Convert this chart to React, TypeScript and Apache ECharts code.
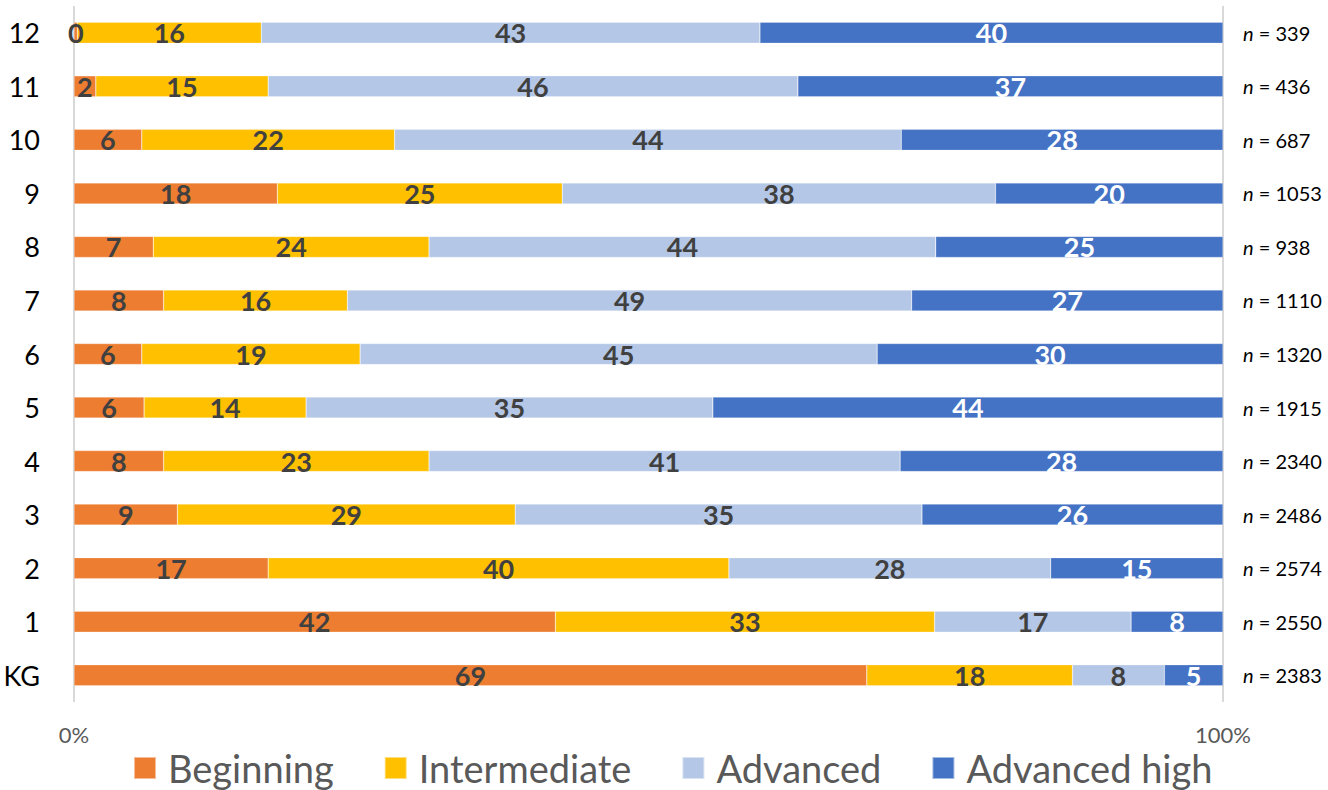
import React, { useEffect, useRef } from "react";
import * as echarts from "echarts";

const categories = ["KG", "1", "2", "3", "4", "5", "6", "7", "8", "9", "10", "11", "12"];
const beginning = [69.0, 41.9, 16.9, 9.0, 7.8, 6.1, 5.9, 7.8, 6.9, 17.7, 5.9, 1.9, 0.3];
const intermediate = [17.9, 33.0, 40.1, 29.4, 23.1, 14.1, 19.0, 16.0, 24.0, 24.8, 22.0, 15.0, 16.0];
const advanced = [8.0, 17.1, 28.0, 35.4, 41.0, 35.4, 45.0, 49.1, 44.1, 37.7, 44.1, 46.1, 43.4];
const advancedHigh = [5.1, 8.0, 15.0, 26.2, 28.1, 44.4, 30.1, 27.1, 25.0, 19.8, 28.0, 37.0, 40.3];
const nValues = [2383, 2550, 2574, 2486, 2340, 1915, 1320, 1110, 938, 1053, 687, 436, 339];
const xTicks = [0, 100];

const FONT = "Lato, 'Open Sans', sans-serif";

export default function App() {
  const ref = useRef<HTMLDivElement>(null);
  useEffect(() => {
    if (!ref.current) return;
    const chart = echarts.init(ref.current, undefined, { renderer: "svg" });
    const mk = (name: string, data: number[], color: string, labelColor: string) => ({
      name,
      type: "bar",
      stack: "total",
      data,
      barWidth: 21,
      itemStyle: { color, borderColor: "rgba(255,255,255,0.5)", borderWidth: 0.5 },
      label: {
        show: true,
        position: "inside",
        formatter: (p: any) => String(Math.round(p.value)),
        color: labelColor,
        fontSize: 27,
        fontWeight: "bold",
        fontFamily: FONT,
      },
    });
    chart.setOption({
      animation: false,
      textStyle: { fontFamily: FONT },
      grid: { left: 74, right: 105, top: 6, height: 696, containLabel: false },
      legend: {
        left: 128,
        top: 744,
        itemWidth: 22,
        itemHeight: 22,
        itemGap: 50,
        icon: "rect",
        textStyle: { fontSize: 38, color: "#595959", fontFamily: FONT, padding: [0, 0, 0, 7] },
        data: ["Beginning", "Intermediate", "Advanced", "Advanced high"],
      },
      xAxis: {
        type: "value",
        min: xTicks[0],
        max: xTicks[1],
        interval: 100,
        axisLine: { show: false },
        axisTick: { show: false },
        splitLine: { show: true, lineStyle: { color: "#d9d9d9", width: 2 } },
        axisLabel: { formatter: "{value}%", color: "#595959", fontSize: 22, margin: 21, fontFamily: FONT },
      },
      yAxis: [
        {
          type: "category",
          data: categories,
          axisLine: { show: false },
          axisTick: { show: false },
          axisLabel: { color: "#000", fontSize: 27, margin: 34, fontFamily: FONT },
        },
        {
          type: "category",
          position: "right",
          data: nValues,
          axisLine: { show: false },
          axisTick: { show: false },
          axisLabel: {
            align: "left",
            margin: 20,
            formatter: (v: string) => `{i|n} = ${v}`,
            color: "#000",
            fontSize: 20,
            fontFamily: FONT,
            rich: { i: { fontStyle: "italic", fontSize: 20, color: "#000", fontFamily: FONT } },
          },
        },
      ],
      series: [
        mk("Beginning", beginning, "#ED7D31", "#404040"),
        mk("Intermediate", intermediate, "#FFC000", "#404040"),
        mk("Advanced", advanced, "#B4C7E7", "#404040"),
        mk("Advanced high", advancedHigh, "#4472C4", "#ffffff"),
      ],
    });
    return () => chart.dispose();
  }, []);
  return (
    <div
      ref={ref}
      style={{ position: "fixed", left: 0, top: 0, width: 1328, height: 790, background: "#fff" }}
    />
  );
}
